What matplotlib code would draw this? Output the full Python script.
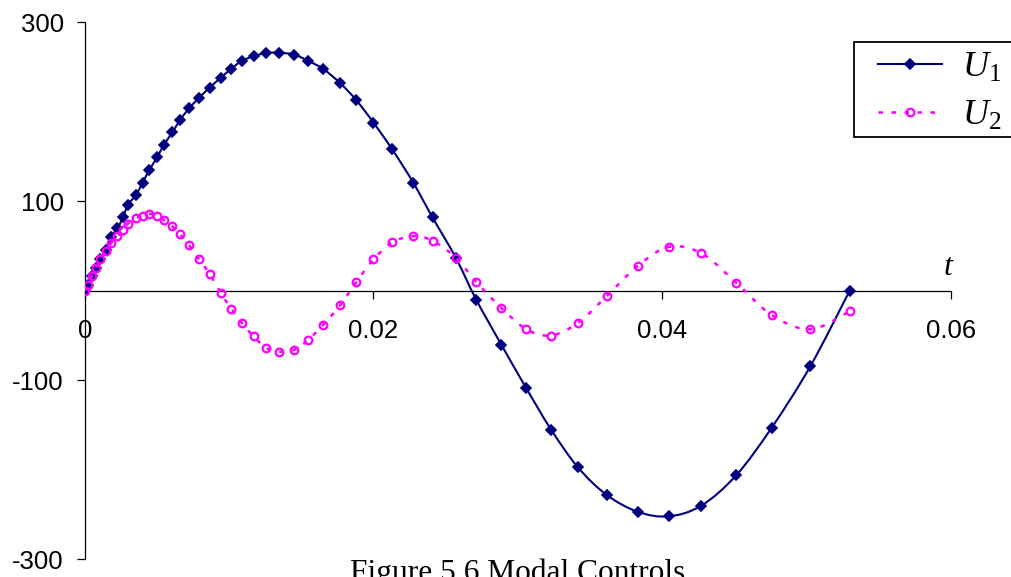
"""
Modal controls U1 and U2 against time.
"""

import matplotlib.pyplot as plt
from matplotlib.path import Path
from matplotlib.patches import PathPatch, Rectangle
from matplotlib.lines import Line2D


# Settings
plt.rcParams['font.family'] = 'Liberation Sans'
plt.rcParams['axes.unicode_minus'] = False
plt.rcParams['mathtext.fontset'] = 'custom'
plt.rcParams['mathtext.rm'] = 'Liberation Serif'
plt.rcParams['mathtext.it'] = 'Liberation Serif:italic'

NAVY = '#000080'
MAGENTA = '#FF00FF'
DOTS = (0, (1.8, 3.4))

# Time steps of the simulation (s)
t = [0, 0.00021, 0.00048, 0.00077, 0.00109, 0.00149, 0.00182, 0.00227,
     0.00265, 0.00299, 0.00354, 0.00402, 0.00447, 0.00501, 0.00548,
     0.00607, 0.00661, 0.00724, 0.00794, 0.00865, 0.00941, 0.01015,
     0.01088, 0.0117, 0.01258, 0.01346, 0.0145, 0.01547, 0.01651, 0.0177,
     0.01881, 0.02, 0.0213, 0.02275, 0.02409, 0.0257, 0.02712, 0.02885,
     0.03059, 0.0323, 0.03415, 0.03615, 0.03832, 0.04046, 0.04271,
     0.04513, 0.04758, 0.05027, 0.05298]

# Modal controls
u1 = [0, 7, 16, 26, 35, 46, 60, 70, 82, 96,
      107, 121, 135, 149, 163, 177, 191, 204, 216, 227,
      238, 248, 257, 262, 266, 266, 264, 257, 248, 232,
      213, 188, 158, 121, 82, 37, -10, -60, -109, -155,
      -197, -228, -247, -252, -240, -206, -153, -84, 0]

u2 = [0, 7, 16, 26, 35, 45, 53, 61, 68, 75,
      81, 84, 86, 84, 79, 72, 63, 51, 35, 19,
      -2, -20, -36, -51, -64, -68, -66, -55, -38, -16,
      10, 35, 54, 61, 56, 37, 10, -19, -43, -50,
      -36, -6, 28, 49, 42, 9, -27, -43, -23]

xticks = [0, 0.02, 0.04, 0.06]
xticklabels = ['0', '0.02', '0.04', '0.06']
yticks = [-300, -100, 100, 300]
yticklabels = ['-300', '-100', '100', '300']


def smooth_path(x, y):
    """
    Smoothed line through the points (cubic Bezier, Catmull-Rom tangents)
    """
    verts = [(x[0], y[0])]
    codes = [Path.MOVETO]
    n = len(x)
    for i in range(n - 1):
        i0 = max(i - 1, 0)
        i3 = min(i + 2, n - 1)
        c1 = (x[i] + (x[i + 1] - x[i0]) / 6, y[i] + (y[i + 1] - y[i0]) / 6)
        c2 = (x[i + 1] - (x[i3] - x[i]) / 6, y[i + 1] - (y[i3] - y[i]) / 6)
        verts += [c1, c2, (x[i + 1], y[i + 1])]
        codes += [Path.CURVE4] * 3
    return Path(verts, codes)


fig = plt.figure(figsize=(10.12, 5.77), dpi=100)
W, H = 1012, 577
ax = fig.add_axes([0.0837, 0.0307, 0.856, 0.9306])

# U1: smoothed solid line with diamonds
ax.add_patch(PathPatch(smooth_path(t, u1), fill=False, edgecolor=NAVY,
                       lw=1.5, zorder=2))
ax.plot(t, u1, ls='none', marker='D', ms=5, color=NAVY, mec=NAVY,
        mew=1.2, zorder=3)

# U2: smoothed dotted line with open circles
ax.add_patch(PathPatch(smooth_path(t, u2), fill=False, edgecolor=MAGENTA,
                       lw=1.8, ls=DOTS, zorder=4))
ax.plot(t, u2, ls='none', marker='o', ms=5.5, mfc='none', mec=MAGENTA,
        mew=1.6, zorder=5)

ax.set_xlim(0, 0.06)
ax.set_ylim(-300, 300)

# Axes crossing at zero
ax.spines['bottom'].set_position(('data', 0))
ax.spines['top'].set_visible(False)
ax.spines['right'].set_visible(False)
for sp in ['left', 'bottom']:
    ax.spines[sp].set_linewidth(0.9)

ax.set_xticks(xticks)
ax.set_xticklabels(xticklabels)
ax.set_yticks(yticks)
ax.set_yticklabels(yticklabels)
ax.tick_params(axis='both', direction='out', length=5.8, width=0.9,
               labelsize=18.5)
ax.tick_params(axis='x', pad=14.4)
ax.tick_params(axis='y', pad=9.3)

ax.text(0.9966, 0.529, 't', transform=ax.transAxes, ha='center',
        va='baseline', fontsize=23, family='Liberation Serif',
        style='italic')

# Legend: frame drawn separately so the entries sit inset from the border
fig.patches.append(Rectangle(
    (854 / W, 1 - 137.3 / H), 200 / W, 95.6 / H, transform=fig.transFigure,
    facecolor='white', edgecolor='black', lw=1.3, zorder=1))
h1 = Line2D([], [], color=NAVY, lw=1.5, marker='D', ms=5, mew=1.2)
h2 = Line2D([], [], color=MAGENTA, lw=1.8, ls=DOTS, marker='o', ms=5.5,
            mfc='none', mew=1.6)
leg = fig.legend(
    [h1, h2], [r'$U_1$', r'$U_2$'],
    loc='upper left', bbox_to_anchor=(878 / W, 1 - 50 / H),
    fontsize=26, frameon=False, borderpad=0, handlelength=1.78,
    handletextpad=0.55, labelspacing=0.36, borderaxespad=0)
leg.set_zorder(2)

fig.text(350 / W, -0.0066, 'Figure 5.6 Modal Controls', ha='left',
         va='baseline', fontsize=22.6, family='Liberation Serif')

plt.savefig('out.png', dpi=100)
